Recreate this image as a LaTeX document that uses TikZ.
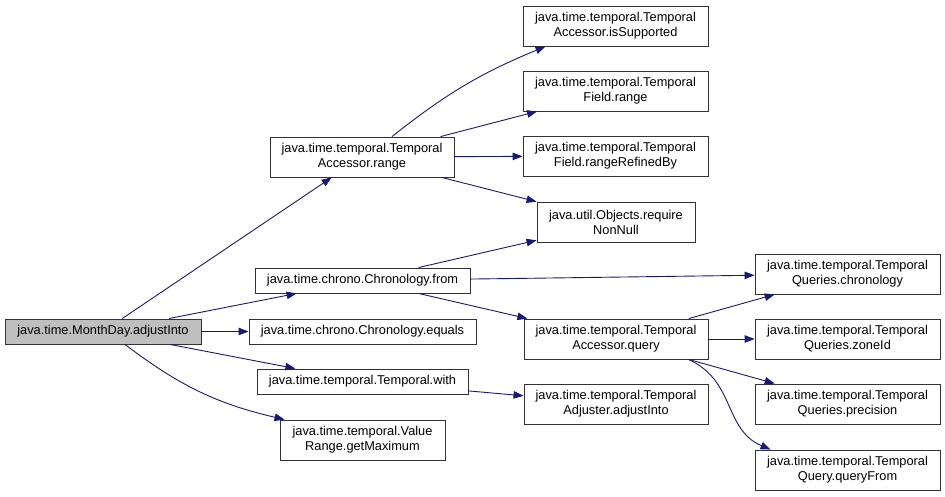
\documentclass[tikz,border=0pt]{standalone}
\usepackage{fontspec}
\setmainfont{Liberation Sans}
\usetikzlibrary{arrows.meta}
\definecolor{edgeblue}{HTML}{191970}
\definecolor{rootgray}{HTML}{BFBFBF}
\begin{document}
\begin{tikzpicture}[
        x=1pt, y=-1pt,
        func_block/.style={rectangle, draw=black!80, line width=0.9pt, inner sep=0pt, minimum height=40pt, align=center, font=\fontsize{12.8}{15}\selectfont},
        single/.style={func_block, minimum height=25pt},
        root/.style={single, fill=rootgray},
        call_arrow/.style={-{Triangle[length=10pt, width=7.5pt]}, draw=edgeblue, line width=0.9pt}
    ]
    \useasboundingbox (0,0) rectangle (945,496);

    % Root function
    \node[root, minimum width=196pt] (adjust) at (103, 331.5) {java.time.MonthDay.adjustInto};

    % First level callees
    \node[func_block, minimum width=184pt] (tarange) at (362, 157) {java.time.temporal.Temporal\\Accessor.range};
    \node[single, minimum width=215pt] (chfrom) at (362.5, 280.5) {java.time.chrono.Chronology.from};
    \node[single, minimum width=227pt] (chequals) at (362.5, 331.5) {java.time.chrono.Chronology.equals};
    \node[single, minimum width=211pt] (twith) at (362.5, 381.5) {java.time.temporal.Temporal.with};
    \node[func_block, minimum width=165pt] (vrmax) at (362.5, 440) {java.time.temporal.Value\\Range.getMaximum};

    % Second level callees
    \node[func_block, minimum width=185pt] (issupp) at (615.5, 26) {java.time.temporal.Temporal\\Accessor.isSupported};
    \node[func_block, minimum width=185pt] (frange) at (615.5, 91) {java.time.temporal.Temporal\\Field.range};
    \node[func_block, minimum width=185pt] (frefined) at (615.5, 156) {java.time.temporal.Temporal\\Field.rangeRefinedBy};
    \node[func_block, minimum width=158pt] (nonnull) at (616, 222) {java.util.Objects.require\\NonNull};
    \node[func_block, minimum width=184pt] (taquery) at (616, 339) {java.time.temporal.Temporal\\Accessor.query};
    \node[func_block, minimum width=184pt] (tadjust) at (616, 404) {java.time.temporal.Temporal\\Adjuster.adjustInto};

    % Third level callees
    \node[func_block, minimum width=185pt] (qchrono) at (847.5, 274) {java.time.temporal.Temporal\\Queries.chronology};
    \node[func_block, minimum width=185pt] (qzone) at (847.5, 339) {java.time.temporal.Temporal\\Queries.zoneId};
    \node[func_block, minimum width=185pt] (qprec) at (847.5, 404) {java.time.temporal.Temporal\\Queries.precision};
    \node[func_block, minimum width=185pt] (qfrom) at (847.5, 470) {java.time.temporal.Temporal\\Query.queryFrom};

    % Calls from the root
    \draw[call_arrow] (adjust) -- (tarange);
    \draw[call_arrow] (adjust) -- (chfrom);
    \draw[call_arrow] (adjust) -- (chequals);
    \draw[call_arrow] (adjust) -- (twith);
    \draw[call_arrow] ([xshift=22pt]adjust.south) to[bend right=12] ([xshift=5pt]vrmax.north west);

    % Calls from TemporalAccessor.range
    \draw[call_arrow] ([xshift=30pt]tarange.north) to[bend left=8] ([xshift=-70pt]issupp.south);
    \draw[call_arrow] (tarange) -- (frange);
    \draw[call_arrow] (tarange) -- (frefined);
    \draw[call_arrow] (tarange) -- (nonnull);

    % Calls from Chronology.from and Temporal.with
    \draw[call_arrow] (chfrom) -- (nonnull);
    \draw[call_arrow] (chfrom) -- (qchrono);
    \draw[call_arrow] (chfrom) -- (taquery);
    \draw[call_arrow] (twith) -- (tadjust);

    % Calls from TemporalAccessor.query
    \draw[call_arrow] (taquery) -- (qchrono);
    \draw[call_arrow] (taquery) -- (qzone);
    \draw[call_arrow] (taquery) -- (qprec);
    \draw[call_arrow] ([xshift=-20pt]taquery.south east) .. controls +(47,21) and +(-47,-20) .. ([xshift=16pt]qfrom.north west);

    \end{tikzpicture}
\end{document}
